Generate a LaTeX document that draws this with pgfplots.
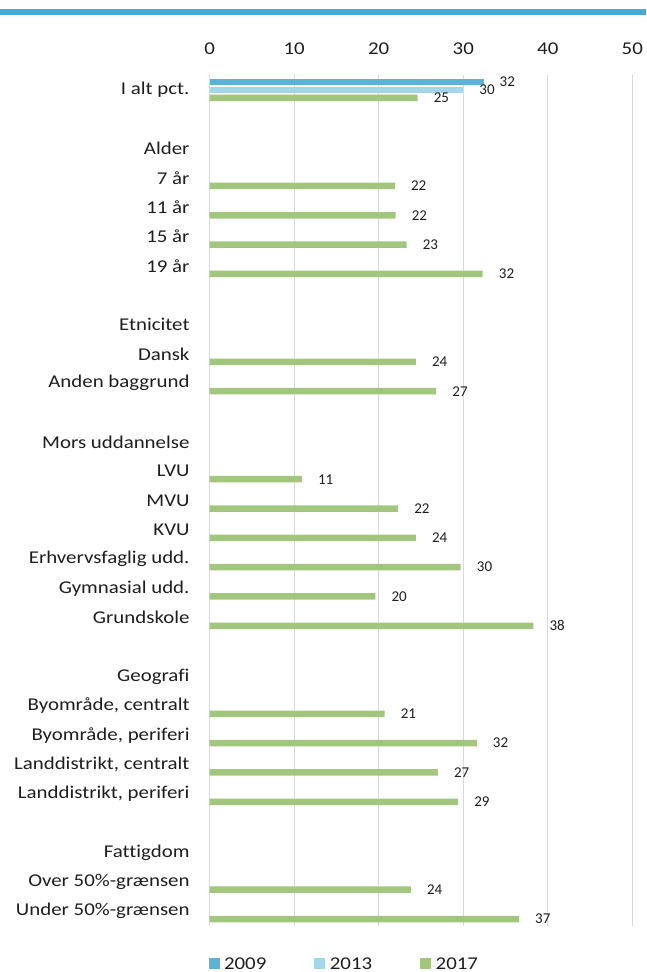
\documentclass[border=0pt]{standalone}
\usepackage{fontspec}
\setmainfont{Carlito}[FakeStretch=1.16,Ligatures=NoCommon]
\newfontfamily\lblfont{Carlito}[Ligatures=NoCommon]
\usepackage{pgfplots}
\pgfplotsset{compat=1.18}
\definecolor{cA}{RGB}{91,180,216}
\definecolor{cB}{RGB}{164,214,234}
\definecolor{cC}{RGB}{163,198,126}
\definecolor{topblue}{RGB}{72,170,214}
\definecolor{gridc}{RGB}{217,217,217}
\definecolor{txt}{RGB}{30,30,30}
\begin{document}
\begin{tikzpicture}[x=1pt,y=1pt]
\fill[topblue] (0,-9) rectangle (646,-15);
\begin{axis}[
  at={(209.7pt,-75.3pt)}, anchor=north west,
  scale only axis, width=422.6pt, height=850.4pt,
  xbar, bar width=6.5pt,
  xmin=0, xmax=50, xtick={0,10,...,50},
  ymin=-0.5, ymax=28.5, y dir=reverse,
  ytick={0,...,28},
  yticklabels={I alt pct.,,Alder,7 år,11 år,15 år,19 år,,Etnicitet,Dansk,Anden baggrund,,Mors uddannelse,LVU,MVU,KVU,Erhvervsfaglig udd.,Gymnasial udd.,Grundskole,,Geografi,{Byområde, centralt},{Byområde, periferi},{Landdistrikt, centralt},{Landdistrikt, periferi},,Fattigdom,Over 50\%-grænsen,Under 50\%-grænsen},
  axis line style={draw=none},
  major tick length=0pt,
  xmajorgrids, grid style={gridc, line width=1pt},
  xticklabel pos=upper,
  /pgf/number format/assume math mode=true,
  x tick label style={font=\fontsize{18}{20}\selectfont, text=txt, anchor=base, yshift=20.5pt, inner sep=0pt},
  y tick label style={font=\fontsize{18}{20}\selectfont, text=txt, anchor=east, inner sep=0pt, xshift=-20pt},
  nodes near coords={\pgfmathprintnumber[fixed,precision=0]{\pgfplotspointmeta}},
  point meta=x,
  every node near coord/.append style={font=\lblfont\fontsize{15}{17}\selectfont, text=txt, anchor=west, inner sep=0pt, xshift=16pt},
  legend style={at={(-0.0033,-0.045)}, anchor=west, draw=none, fill=none, inner sep=0pt, legend columns=3,
     nodes={inner sep=0pt, font=\fontsize{18}{20}\selectfont, text=txt},
     /tikz/every odd column/.append style={column sep=4.5pt},
     /tikz/every even column/.append style={column sep=48pt}},
  legend image code/.code={\fill[#1,draw=none] (0pt,-5.5pt) rectangle (11pt,5.5pt);},
]
\addplot[fill=cA, draw=none, bar shift=8pt] coordinates {(32.4,0)};
\addplot[fill=cB, draw=none, bar shift=0pt] coordinates {(30.0,0)};
\addplot[fill=cC, draw=none, bar shift=-8pt] coordinates {
(24.6,0) (21.9,3) (22.0,4) (23.3,5) (32.3,6)
(24.4,9) (26.8,10)
(10.9,13) (22.3,14) (24.4,15) (29.7,16) (19.6,17) (38.3,18)
(20.7,21) (31.6,22) (27.0,23) (29.4,24)
(23.8,27) (36.6,28)};
\legend{2009,2013,2017}
\end{axis}
\pgfresetboundingbox
\useasboundingbox (0,0) rectangle (646,-972);
\end{tikzpicture}
\end{document}
